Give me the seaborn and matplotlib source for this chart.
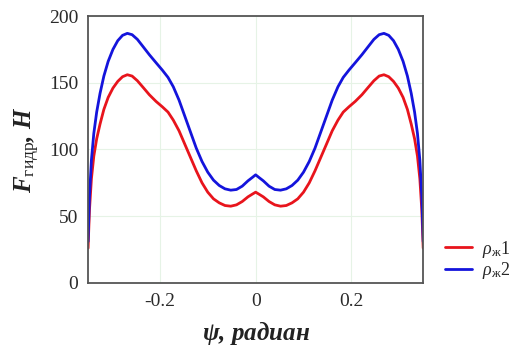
import numpy as np
import pandas as pd
import matplotlib
matplotlib.use("Agg")
import matplotlib.pyplot as plt
import seaborn as sns

# half-curve abscissae (left side), mirrored for the right side
x_left = [-0.35, -0.347, -0.343, -0.338, -0.332, -0.325, -0.317, -0.308, -0.298,
          -0.288, -0.278, -0.268, -0.258, -0.247, -0.235, -0.222, -0.208, -0.195,
          -0.183, -0.172, -0.16, -0.148, -0.136, -0.124, -0.112, -0.1, -0.088,
          -0.076, -0.064, -0.052, -0.04, -0.028, -0.016, -0.007, 0.0]
red_left = [26, 55, 78, 95, 108, 119, 130, 139, 146,
            151, 154.5, 156, 155, 151.5, 146.5, 141, 136, 132,
            128, 122, 114, 104, 94, 84, 75, 68, 63,
            60, 58, 57.5, 58.5, 61, 64.5, 66.5, 68]
blue_left = [31, 65, 92, 112, 128, 142, 155, 166, 175,
             181.5, 185.5, 187, 186, 182.5, 177, 171, 165, 159.5,
             154, 147, 137, 125, 113, 101, 91, 83, 77,
             73, 70.5, 69.5, 70, 72.5, 76.5, 79, 81]

x_right = [-v for v in reversed(x_left[:-1])]
red_right = list(reversed(red_left[:-1]))
blue_right = list(reversed(blue_left[:-1]))

psi = x_left + x_right
red = red_left + red_right
blue = blue_left + blue_right

series_names = [r'$\rho_{\mathrm{ж}}$1', r'$\rho_{\mathrm{ж}}$2']
x_ticks = [-0.2, 0, 0.2]
x_tick_labels = ['-0.2', '0', '0.2']
y_ticks = [0, 50, 100, 150, 200]

df = pd.DataFrame({
    'psi': psi * 2,
    'F': red + blue,
    'series': [series_names[0]] * len(psi) + [series_names[1]] * len(psi),
})

sns.set_theme(style='white')
plt.rcParams['font.family'] = ['Liberation Serif', 'DejaVu Serif']
plt.rcParams['mathtext.fontset'] = 'custom'
plt.rcParams['mathtext.rm'] = 'Liberation Serif'
plt.rcParams['mathtext.it'] = 'Liberation Serif:italic'
plt.rcParams['mathtext.bf'] = 'Liberation Serif:bold'
plt.rcParams['mathtext.bfit'] = 'Liberation Serif:italic:bold'

fig = plt.figure(figsize=(5.18, 3.48), dpi=100)
ax = fig.add_axes([0.170, 0.187, 0.647, 0.767])

palette = {series_names[0]: '#e8141c', series_names[1]: '#1414dc'}
sns.lineplot(data=df, x='psi', y='F', hue='series', palette=palette,
             linewidth=2.0, ax=ax, sort=False, legend=False)

ax.set_xlim(-0.35, 0.35)
ax.set_ylim(0, 200)
ax.set_xticks(x_ticks)
ax.set_xticklabels(x_tick_labels)
ax.set_yticks(y_ticks)
ax.tick_params(axis='both', length=0, labelsize=14, colors='#2a2a2a', pad=7)
ax.grid(True, color='#e6f3e6', linewidth=0.8)
for sp in ax.spines.values():
    sp.set_color('#555555')
    sp.set_linewidth(1.3)

ax.set_xlabel(r'$\mathbfit{\psi}$, радиан', fontsize=18, fontstyle='italic',
              fontweight='bold', color='#222222', labelpad=7)
ax.set_ylabel(r'$\mathbfit{F}_{\mathrm{гидр}}$, Н', fontsize=18, fontstyle='italic',
              fontweight='bold', color='#222222', labelpad=5)

handles = [plt.Line2D([], [], color=palette[n], lw=2.0) for n in series_names]
fig.legend(handles, series_names, loc='center', bbox_to_anchor=(0.922, 0.253),
           frameon=False, fontsize=13, handlelength=1.5, handletextpad=0.5,
           labelspacing=0.05)

fig.savefig('out.png', dpi=100)
